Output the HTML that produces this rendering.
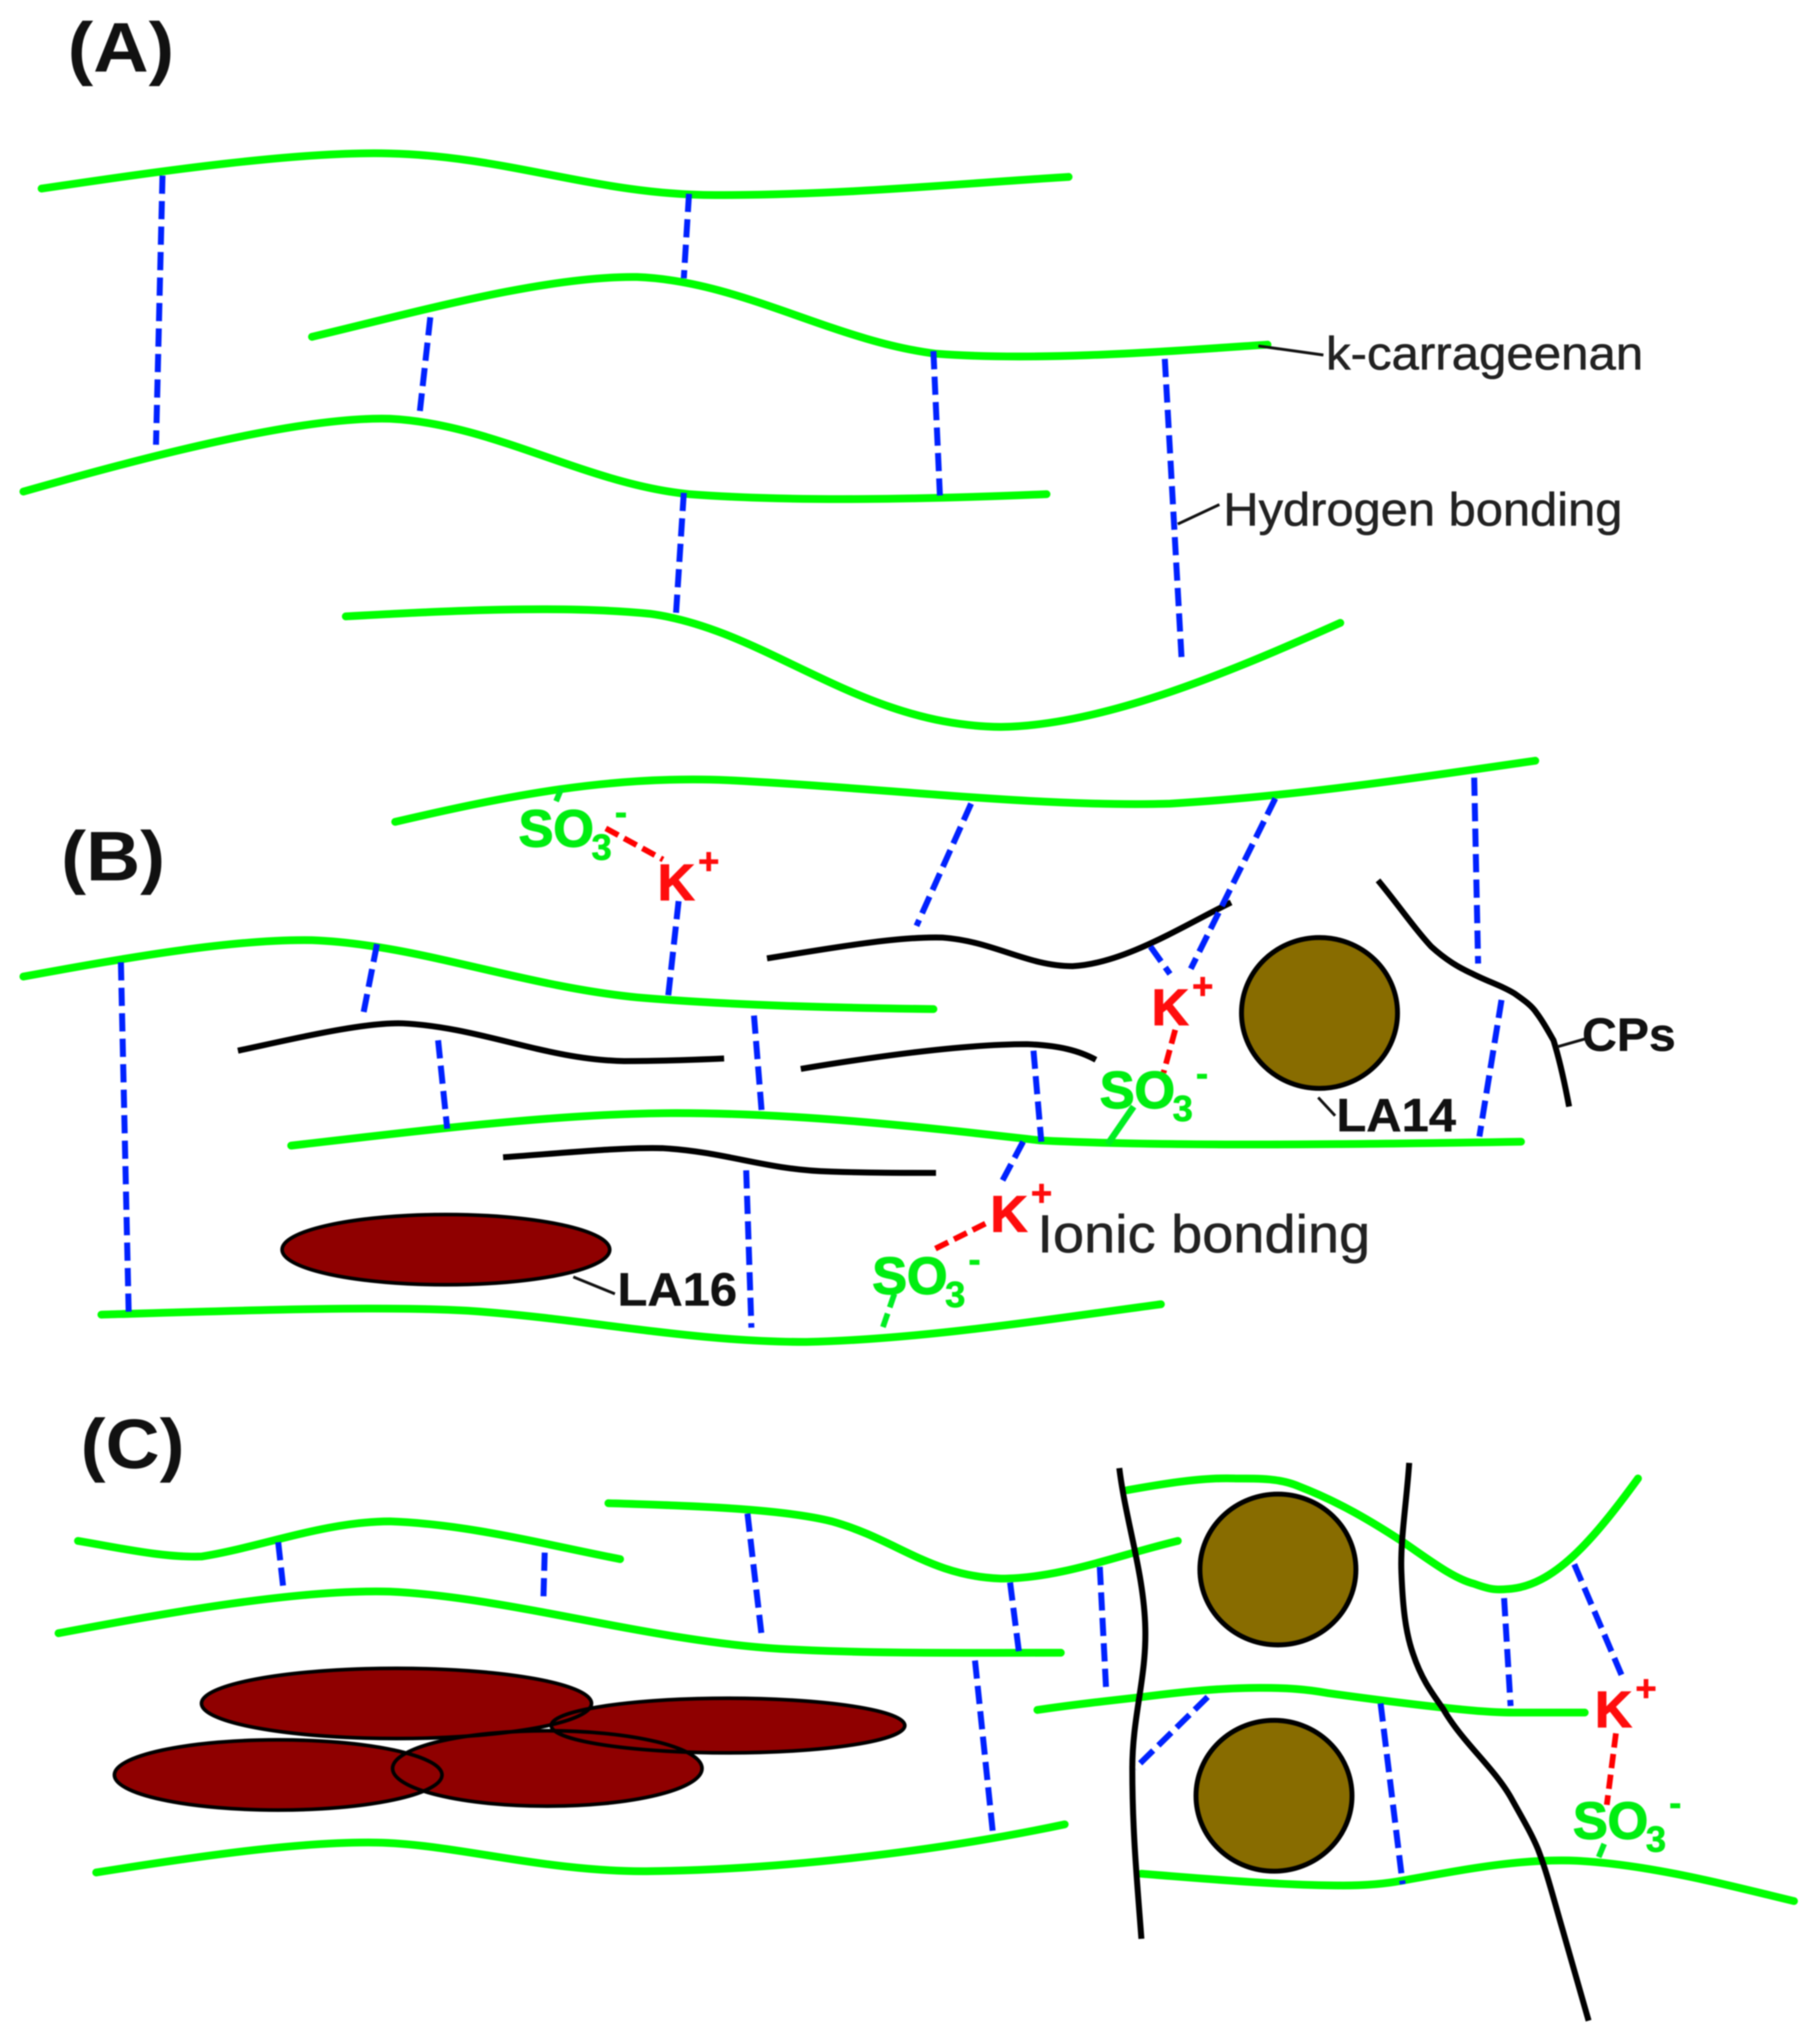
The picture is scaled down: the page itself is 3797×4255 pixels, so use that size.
<!DOCTYPE html>
<html><head><meta charset="utf-8"><style>
html,body{margin:0;padding:0;background:#fff}
svg{display:block;width:3797px;height:4255px;filter:blur(1.2px)}
text{font-family:"Liberation Sans",sans-serif}
.g{fill:none;stroke:#00ff00;stroke-width:6;stroke-linecap:round}
.k{fill:none;stroke:#000;stroke-width:4.6;stroke-linecap:butt}
.k2{fill:none;stroke:#111;stroke-width:2.2}
.b{fill:none;stroke:#0022ff;stroke-width:4.6;stroke-dasharray:14 5.6}
.r{fill:none;stroke:#ff0000;stroke-width:4.4;stroke-dasharray:11 5}
.sg{fill:none;stroke:#00ee22;stroke-width:4.4;stroke-dasharray:11 5}
.lab{font-size:36px;fill:#222;stroke:#222;stroke-width:.4}
.blab{font-size:36px;font-weight:bold;fill:#111;stroke:#111;stroke-width:.3}
.h{font-size:54px;font-weight:bold;fill:#111}
.so{font-size:40px;font-weight:bold;fill:#00ee11;stroke:#00ee11;stroke-width:1}
.so2{font-size:28px;font-weight:bold;fill:#00ee11;stroke:#00ee11;stroke-width:.5}
.kk{font-size:39px;font-weight:bold;fill:#ff0d0d;stroke:#ff0d0d;stroke-width:1}
.kp{font-size:28px;font-weight:bold;fill:#ff0d0d;stroke:#ff0d0d;stroke-width:.5}
</style></head><body>
<svg xmlns="http://www.w3.org/2000/svg" viewBox="0 0 1400 1568.8" width="3797" height="4255">
<rect width="1400" height="1568.8" fill="#fff"/>

<!-- A -->
<text class="h" x="52" y="55" textLength="82" lengthAdjust="spacingAndGlyphs">(A)</text>
<path class="g" d="M32 145C120 132 230 116 300 118C390 120 460 150 550 150C650 150 740 141 822 136"/>
<path class="g" d="M240 259C320 240 420 212 490 213C570 216 640 262 720 272C800 278 900 270 975 265"/>
<path class="g" d="M18 378C110 352 230 320 300 322C380 326 450 372 530 380C610 386 710 384 805 380"/>
<path class="g" d="M266 474C340 470 430 465 500 472C590 484 660 558 770 559C850 558 950 515 1031 479"/>
<path class="b" d="M125 135L120 342"/>
<path class="b" d="M530 149L526 214"/>
<path class="b" d="M331 244L323 316"/>
<path class="b" d="M718 270L723 381"/>
<path class="b" d="M526 379L520 472"/>
<path class="b" d="M896 276L909 508"/>
<path class="k2" d="M968 266L1018 273"/>
<path class="k2" d="M906 403L938 388"/>
<text class="lab" x="1020" y="284" textLength="244" lengthAdjust="spacingAndGlyphs">k-carrageenan</text>
<text class="lab" x="941" y="404" textLength="307" lengthAdjust="spacingAndGlyphs">Hydrogen bonding</text>

<!-- B -->
<text class="h" x="47" y="677" textLength="80" lengthAdjust="spacingAndGlyphs">(B)</text>
<path class="g" d="M304 632C390 612 470 596 560 600C680 606 800 621 900 618C1000 612 1090 598 1181 585"/>
<path class="g" d="M18 751C100 736 180 722 240 723C320 726 400 758 490 767C560 773 640 775 718 776"/>
<path class="g" d="M224 881C320 870 430 856 520 856C620 856 720 868 800 877C900 882 1050 880 1170 878"/>
<path class="g" d="M78 1011C180 1008 290 1004 360 1008C450 1014 530 1032 620 1032C710 1030 810 1014 893 1003"/>
<path class="k" d="M183 808C230 798 280 786 310 787C370 790 420 815 480 816C510 816 535 815 557 814"/>
<path class="k" d="M590 737C640 729 690 720 725 721C765 724 790 743 825 743C865 741 910 712 947 694"/>
<path class="k" d="M616 822C670 813 740 803 790 803C815 804 830 808 843 815"/>
<path class="k" d="M387 890C430 887 480 882 510 883C560 886 590 900 640 901C670 902 695 902 720 902"/>
<path class="k" d="M1060 677C1075 695 1088 714 1101 728C1112 738 1122 744 1133 749C1145 755 1155 758 1165 764C1172 769 1178 773 1182 779C1188 787 1192 795 1195 800C1200 816 1204 835 1207 851"/>
<path class="b" d="M747 618L705 712"/>
<path class="b" d="M981 614L916 745"/>
<path class="b" d="M885 728L900 749"/>
<path class="b" d="M1134 598L1137 741"/>
<path class="b" d="M1155 769L1138 874"/>
<path class="b" d="M522 693L514 766"/>
<path class="b" d="M290 726L279 782"/>
<path class="b" d="M337 800L344 868"/>
<path class="b" d="M580 781L586 856"/>
<path class="b" d="M795 808L801 878"/>
<path class="b" d="M787 878L770 910"/>
<path class="b" d="M93 740L99 1010"/>
<path class="b" d="M574 900L578 1021"/>
<path class="r" d="M466 637L510 661"/>
<path class="r" d="M758 941L716 962"/>
<path class="r" d="M904 792L895 825"/>
<path class="sg" d="M432 606L427 618"/>
<path d="M872 851L852 880" fill="none" stroke="#00ee22" stroke-width="5"/>
<path class="sg" d="M688 995L678 1024"/>
<ellipse cx="343" cy="961" rx="126" ry="27" fill="#8f0000" stroke="#000" stroke-width="2.8"/>
<ellipse cx="1015" cy="779" rx="60" ry="58" fill="#886c00" stroke="#000" stroke-width="3.8"/>
<path class="k2" d="M441 982L473 995"/>
<path class="k2" d="M1014 844L1027 858"/>
<path class="k2" d="M1198 805L1219 799"/>
<text class="so" x="399" y="651">SO</text><text class="so2" x="455" y="661">3</text><text class="so2" x="473" y="634">-</text>
<text class="kk" x="506" y="692">K</text><text class="kp" x="537" y="672">+</text>
<text class="kk" x="886" y="788">K</text><text class="kp" x="917" y="768">+</text>
<text class="so" x="846" y="852">SO</text><text class="so2" x="902" y="862">3</text><text class="so2" x="920" y="835">-</text>
<text class="kk" x="762" y="947">K</text><text class="kp" x="793" y="927">+</text>
<text class="so" x="671" y="995">SO</text><text class="so2" x="727" y="1005">3</text><text class="so2" x="745" y="978">-</text>
<text class="blab" x="1028" y="870" textLength="92" lengthAdjust="spacingAndGlyphs">LA14</text>
<text class="blab" x="475" y="1004" textLength="92" lengthAdjust="spacingAndGlyphs">LA16</text>
<text class="blab" x="1217" y="808" textLength="72" lengthAdjust="spacingAndGlyphs">CPs</text>
<text class="lab" x="798" y="963" textLength="256" lengthAdjust="spacingAndGlyphs" style="font-size:41px">Ionic bonding</text>

<!-- C -->
<text class="h" x="62" y="1129" textLength="80" lengthAdjust="spacingAndGlyphs">(C)</text>
<path class="g" d="M60 1185C90 1190 125 1198 155 1197C200 1190 250 1170 300 1170C360 1172 420 1188 477 1199"/>
<path class="g" d="M45 1256C130 1240 230 1222 300 1224C390 1228 500 1262 600 1268C670 1272 750 1271 816 1271"/>
<path class="g" d="M468 1156C530 1158 600 1160 640 1170C690 1184 715 1212 770 1214C815 1214 860 1196 906 1185"/>
<path class="g" d="M74 1440C150 1428 230 1416 290 1417C350 1418 420 1440 500 1439C590 1438 710 1426 819 1403"/>
<path class="g" d="M867 1146C895 1141 925 1136 950 1137C970 1137 985 1137 999 1143C1030 1155 1055 1170 1078 1185C1100 1200 1118 1214 1134 1218C1145 1222 1150 1223 1160 1222C1195 1220 1225 1185 1260 1137"/>
<path class="g" d="M798 1315C825 1311 852 1308 879 1305C910 1301 940 1298 969 1298C990 1298 1005 1299 1021 1302C1050 1306 1080 1310 1108 1313C1128 1315 1146 1317 1164 1317C1182 1317 1200 1317 1219 1317"/>
<path class="g" d="M878 1441C930 1445 985 1450 1033 1450C1050 1450 1065 1449 1080 1446C1125 1438 1170 1429 1213 1431C1270 1434 1330 1450 1380 1462"/>
<path class="b" d="M214 1186L218 1222"/>
<path class="b" d="M419 1194L418 1230"/>
<path class="b" d="M575 1164L586 1259"/>
<path class="b" d="M777 1217L784 1272"/>
<path class="b" d="M750 1277L764 1412"/>
<path class="b" d="M846 1205L851 1302"/>
<path class="b" d="M929 1305L873 1360"/>
<path class="b" d="M1062 1310L1079 1449"/>
<path class="b" d="M1157 1229L1162 1312"/>
<path class="b" d="M1211 1203L1249 1292"/>
<path class="r" d="M1243 1333L1236 1388"/>
<path class="sg" d="M1234 1418L1229 1430"/>
<ellipse cx="305" cy="1310" rx="150" ry="27" fill="#8f0000"/>
<ellipse cx="560" cy="1327" rx="136" ry="21" fill="#8f0000"/>
<ellipse cx="214" cy="1365" rx="126" ry="27" fill="#8f0000"/>
<ellipse cx="421" cy="1360" rx="119" ry="29" fill="#8f0000"/>
<ellipse cx="305" cy="1310" rx="150" ry="27" fill="none" stroke="#000" stroke-width="2.8"/>
<ellipse cx="560" cy="1327" rx="136" ry="21" fill="none" stroke="#000" stroke-width="2.8"/>
<ellipse cx="214" cy="1365" rx="126" ry="27" fill="none" stroke="#000" stroke-width="2.8"/>
<ellipse cx="421" cy="1360" rx="119" ry="29" fill="none" stroke="#000" stroke-width="2.8"/>
<ellipse cx="983" cy="1207" rx="60" ry="58" fill="#886c00" stroke="#000" stroke-width="3.8"/>
<ellipse cx="980" cy="1381" rx="60" ry="58" fill="#886c00" stroke="#000" stroke-width="3.8"/>
<path class="k" d="M861 1129C866 1170 880 1210 881 1252C882 1290 871 1320 871 1360C871 1410 875 1450 878 1491"/>
<path class="k" d="M1084 1125C1082 1155 1077 1185 1078 1209C1079 1235 1081 1255 1087 1272C1093 1290 1100 1300 1110 1314C1125 1340 1148 1358 1162 1382C1172 1400 1178 1410 1183 1422C1190 1440 1195 1460 1202 1484L1222 1554"/>
<text class="kk" x="1227" y="1328">K</text><text class="kp" x="1258" y="1308">+</text>
<text class="so" x="1210" y="1414">SO</text><text class="so2" x="1266" y="1424">3</text><text class="so2" x="1284" y="1396">-</text>
</svg>
</body></html>
